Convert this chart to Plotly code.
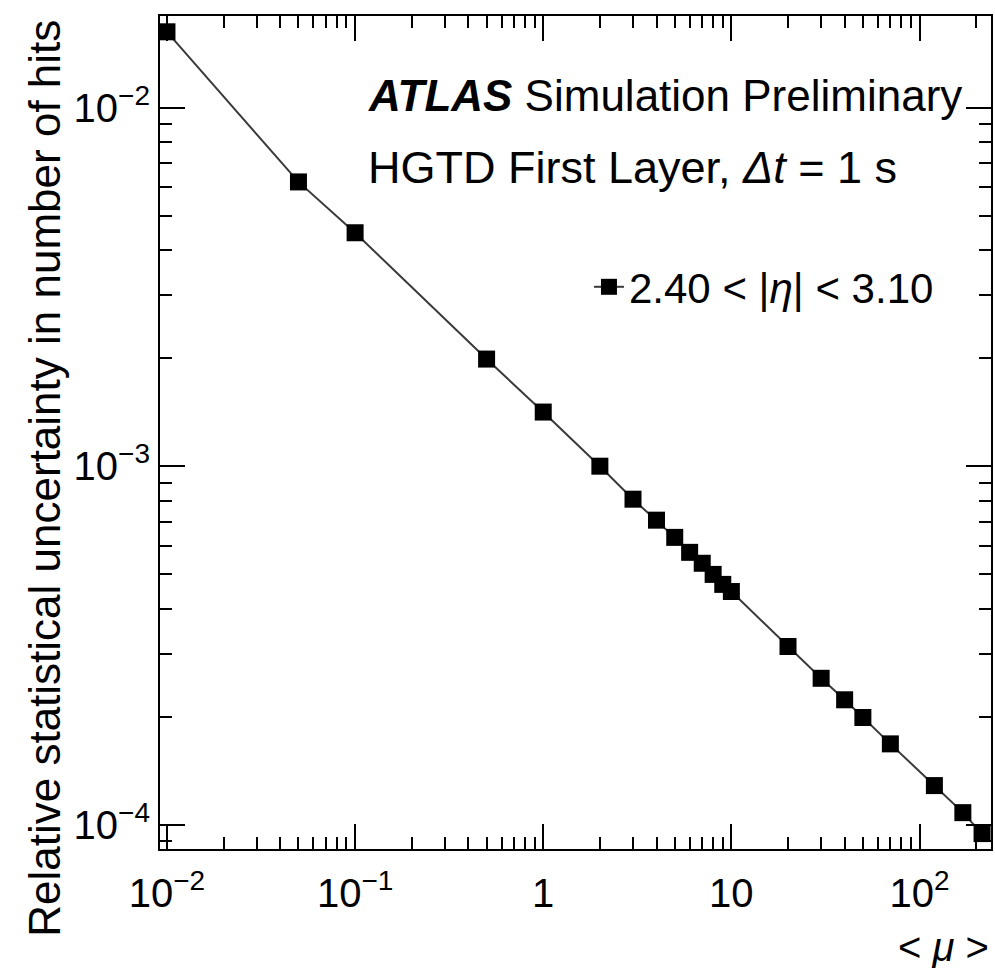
import plotly.graph_objects as go

# Data
mu_values = [0.01, 0.05, 0.1, 0.5, 1, 2, 3, 4, 5, 6, 7, 8, 9, 10,
             20, 30, 40, 50, 70, 120, 170, 215]
rel_uncertainty = [0.01629, 0.00621, 0.00448, 0.00199, 0.001416, 0.001000,
                   0.000809, 0.000707, 0.000633, 0.000575, 0.000536, 0.000499,
                   0.000468, 0.000447, 0.000314, 0.000256, 0.000223, 0.000199,
                   0.000168, 0.0001285, 0.000108, 0.0000944]
series_name = "2.40 < |<i>η</i>| < 3.10"

x_tickvals = [0.01, 0.1, 1, 10, 100]
x_ticktext = ["10<sup>−2</sup>", "10<sup>−1</sup>", "1", "10", "10<sup>2</sup>"]
y_tickvals = [1e-4, 1e-3, 1e-2]
y_ticktext = ["10<sup>−4</sup>", "10<sup>−3</sup>", "10<sup>−2</sup>"]

x_minor = [m * 10.0 ** e for e in range(-3, 3) for m in range(2, 10)]
y_minor = [m * 10.0 ** e for e in range(-5, -1) for m in range(2, 10)]

FONT = "Liberation Sans, Arial, Helvetica, sans-serif"

fig = go.Figure()
fig.add_trace(go.Scatter(
    x=mu_values, y=rel_uncertainty, mode="lines+markers", name=series_name,
    line=dict(color="#3a3a3a", width=2),
    marker=dict(symbol="square", size=17, color="black"),
))

axis_common = dict(
    type="log", showgrid=False, zeroline=False,
    showline=True, linecolor="black", linewidth=2, mirror="ticks",
    ticks="inside", ticklen=25, tickwidth=2, tickcolor="black",
    tickfont=dict(family=FONT, size=40, color="black"),
)

fig.update_xaxes(
    **axis_common,
    range=[-2.037, 2.380],
    tickmode="array", tickvals=x_tickvals, ticktext=x_ticktext,
    ticklabelstandoff=8,
    minor=dict(ticks="inside", ticklen=12, tickwidth=2, tickcolor="black",
               tickmode="array", tickvals=x_minor, showgrid=False),
)
fig.update_yaxes(
    **axis_common,
    range=[-4.068, -1.744],
    tickmode="array", tickvals=y_tickvals, ticktext=y_ticktext,
    minor=dict(ticks="inside", ticklen=12, tickwidth=2, tickcolor="black",
               tickmode="array", tickvals=y_minor, showgrid=False),
)

fig.add_annotation(
    x=1.0, y=0, xref="paper", yref="paper", xanchor="right", yanchor="middle",
    yshift=-98, text="< <i>μ</i> >", showarrow=False,
    font=dict(family=FONT, size=40, color="black"),
)
fig.add_annotation(
    x=(44 - 160) / 833, y=1.0, xref="paper", yref="paper", xanchor="center", yanchor="top",
    yshift=-2,
    textangle=-90, text="Relative statistical uncertainty in number of hits",
    showarrow=False, font=dict(family=FONT, size=44, color="black"),
)
fig.add_annotation(
    x=(366 - 160) / 833, y=1 - (96 - 16) / 833, xref="paper", yref="paper",
    xanchor="left", yanchor="middle",
    text="<b><i>ATLAS</i></b> Simulation Preliminary", showarrow=False,
    font=dict(family=FONT, size=44, color="black"),
)
fig.add_annotation(
    x=(366 - 160) / 833, y=1 - (167 - 16) / 833, xref="paper", yref="paper",
    xanchor="left", yanchor="middle",
    text="HGTD First Layer, <i>Δt</i> = 1 s", showarrow=False,
    font=dict(family=FONT, size=45, color="black"),
)

fig.update_layout(
    width=995, height=968,
    margin=dict(l=160, r=2, t=16, b=119),
    paper_bgcolor="white", plot_bgcolor="white",
    showlegend=True,
    legend=dict(x=(590 - 160) / 833, y=1 - (287 - 16) / 833, xanchor="left",
                yanchor="middle", bgcolor="rgba(0,0,0,0)",
                font=dict(family=FONT, size=42, color="black")),
)

fig.write_html("out.html")
